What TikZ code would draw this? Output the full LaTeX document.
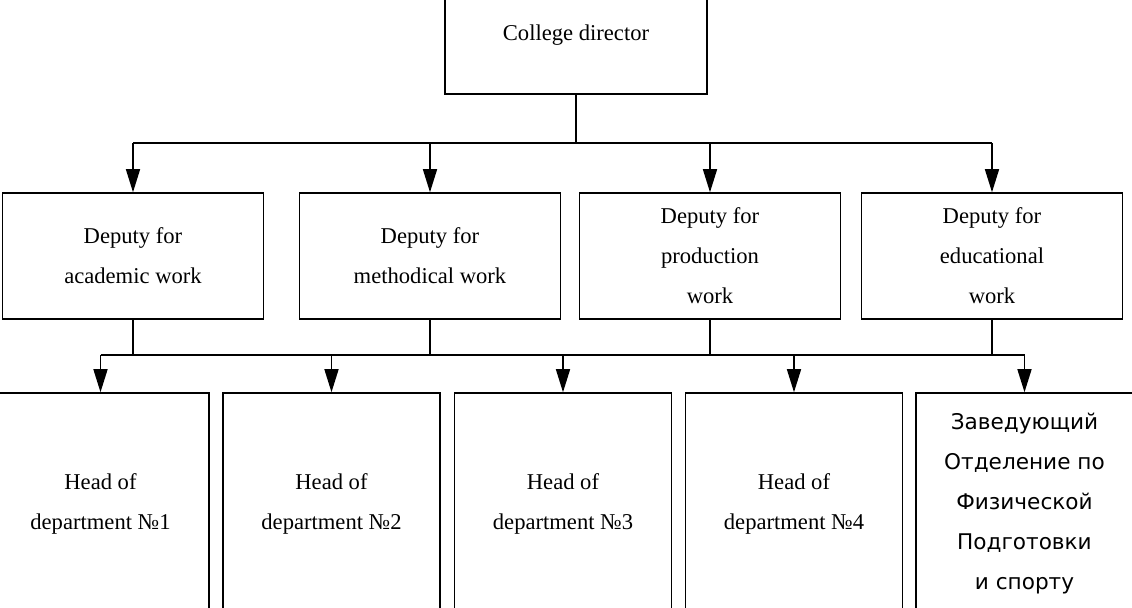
\documentclass[tikz,border=0pt]{standalone}
\usepackage{fontspec}
\setmainfont{Liberation Serif}
\newfontfamily\cyrfont{DejaVu Sans}
\usetikzlibrary{arrows.meta, positioning}
\tikzset{
  box/.style={draw, line width=0.75pt, align=center, inner sep=0pt},
  deputy/.style={box, minimum width=130.5pt, minimum height=63pt},
  head/.style={box, minimum width=108.5pt, minimum height=111pt}
}

\begin{document}
\begin{tikzpicture}[x=0.5pt, y=-0.5pt, >={Triangle[length=11.5pt, width=7pt]}, line width=0.75pt, every node/.style={font=\fontsize{11.3}{20}\selectfont}]
\clip (0,0) rectangle (1132,608);
\node[box, minimum width=131pt, minimum height=59pt] (dir) at (576,35) {College director};
\node[deputy] (dep1) at (133,256) {Deputy for\\academic work};
\node[deputy] (dep2) at (430,256) {Deputy for\\methodical work};
\node[deputy] (dep3) at (710,256) {Deputy for\\production\\work};
\node[deputy] (dep4) at (992,256) {Deputy for\\educational\\work};
\node[head] (head1) at (100.5,504) {Head of\\department №1};
\node[head] (head2) at (331.5,504) {Head of\\department №2};
\node[head] (head3) at (563,504) {Head of\\department №3};
\node[head] (head4) at (794,504) {Head of\\department №4};
\node[head, font=\cyrfont\fontsize{10.8}{20}\selectfont] (head5) at (1024.5,504) {Заведующий\\Отделение по\\Физической\\Подготовки\\и спорту};
% upper bus
\coordinate (bus1) at (576,143);
\draw (dir.south) -- (bus1);
\draw (dep1.north |- bus1) -- (dep4.north |- bus1);
\foreach \d in {dep1, dep2, dep3, dep4}
  \draw[->] (\d.north |- bus1) -- (\d.north);
% lower bus
\coordinate (bus2) at (576,355);
\foreach \d in {dep1, dep2, dep3, dep4}
  \draw (\d.south) -- (\d.south |- bus2);
\draw (head1.north |- bus2) -- (head5.north |- bus2);
\foreach \h in {head1, head2, head3, head4, head5}
  \draw[->] (\h.north |- bus2) -- (\h.north);
\end{tikzpicture}
\end{document}
